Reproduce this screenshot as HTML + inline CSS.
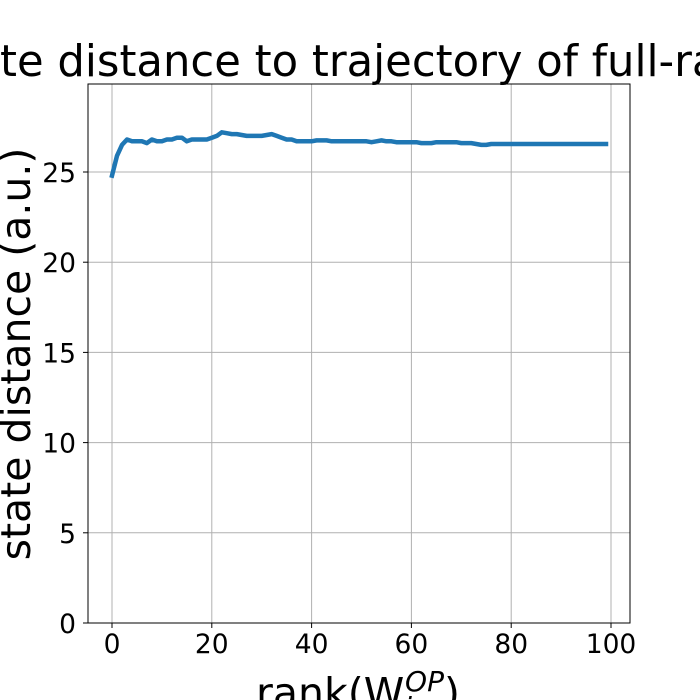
<!DOCTYPE html>
<html><head><meta charset="utf-8"><style>
body{margin:0;background:#fff;}
svg{display:block;font-family:"DejaVu Sans","Liberation Sans",sans-serif;}
</style></head><body>
<svg id="c" width="700" height="700"></svg>
<script>
const xTicks=[0,20,40,60,80,100];
const yTicks=[0,5,10,15,20,25];
const ranks=[];for(let i=0;i<100;i++)ranks.push(i);
const distances=[24.8,25.9,26.5,26.8,26.7,26.7,26.7,26.6,26.8,26.7,
26.7,26.8,26.8,26.9,26.9,26.7,26.8,26.8,26.8,26.8,
26.9,27.0,27.2,27.15,27.1,27.1,27.05,27.0,27.0,27.0,
27.0,27.05,27.1,27.0,26.9,26.8,26.8,26.7,26.7,26.7,
26.7,26.75,26.75,26.75,26.7,26.7,26.7,26.7,26.7,26.7,
26.7,26.7,26.65,26.7,26.75,26.7,26.7,26.65,26.65,26.65,
26.65,26.65,26.6,26.6,26.6,26.65,26.65,26.65,26.65,26.65,
26.6,26.6,26.6,26.55,26.5,26.5,26.55,26.55,26.55,26.55,
26.55,26.55,26.55,26.55,26.55,26.55,26.55,26.55,26.55,26.55,
26.55,26.55,26.55,26.55,26.55,26.55,26.55,26.55,26.55,26.55];
const L=88,R=630,T=84,B=623;
const xs=v=>112+(v-0)*(611-112)/100;
const ys=v=>623-v*(623-172)/25;
const svg=document.getElementById('c');const NS='http://www.w3.org/2000/svg';
function mk(t,a,txt){const e=document.createElementNS(NS,t);for(const k in a)e.setAttribute(k,a[k]);if(txt!=null)e.textContent=txt;svg.appendChild(e);return e;}
xTicks.forEach(v=>{
 const g=mk('line',{x1:xs(v),x2:xs(v),y1:T,y2:B,stroke:'#b0b0b0','stroke-width':1});
 
 
 const t=mk('line',{x1:xs(v),x2:xs(v),y1:B,y2:B+5,stroke:'#000','stroke-width':1});
 
 
 const l=mk('text',{x:xs(v),y:B+30,'text-anchor':'middle','font-size':26.5},v);
 
 
});
yTicks.forEach(v=>{
 const g=mk('line',{x1:L,x2:R,y1:ys(v),y2:ys(v),stroke:'#b0b0b0','stroke-width':1});
 
 
 const t=mk('line',{x1:L-5,x2:L,y1:ys(v),y2:ys(v),stroke:'#000','stroke-width':1});
 
 
 const l=mk('text',{x:L-12,y:ys(v)+10,'text-anchor':'end','font-size':26.5},v);
 
 
});
const fr=mk('rect',{x:L,y:T,width:R-L,height:B-T,fill:'none',stroke:'#000','stroke-width':1});


const d=ranks.map((r,i)=>(i?'L':'M')+xs(r).toFixed(1)+','+ys(distances[i]).toFixed(1)).join('');
const p=mk('path',{d:d,fill:'none',stroke:'#1f77b4','stroke-width':4.5,'stroke-linejoin':'round','stroke-linecap':'square'});


const ti=mk('text',{x:350,y:76,'text-anchor':'middle','font-size':43.3},'State distance to trajectory of full-rank');


const yl=mk('text',{x:0,y:0,'text-anchor':'middle','font-size':41,transform:'translate(30,354) rotate(-90)'},'state distance (a.u.)');


const xl=mk('text',{x:256,y:707,'font-size':41},'');


const a=document.createElementNS(NS,'tspan');a.textContent='rank(W';xl.appendChild(a);
const s=document.createElementNS(NS,'tspan');s.setAttribute('font-size','28');s.setAttribute('font-style','italic');s.setAttribute('dy','10');s.textContent='i';xl.appendChild(s);
const b=document.createElementNS(NS,'tspan');b.setAttribute('font-size','28');b.setAttribute('font-style','italic');b.setAttribute('dx','-7');b.setAttribute('dy','-26');b.textContent='OP';xl.appendChild(b);
const c=document.createElementNS(NS,'tspan');c.setAttribute('dy','16');c.textContent=')';xl.appendChild(c);
</script>
</body></html>
